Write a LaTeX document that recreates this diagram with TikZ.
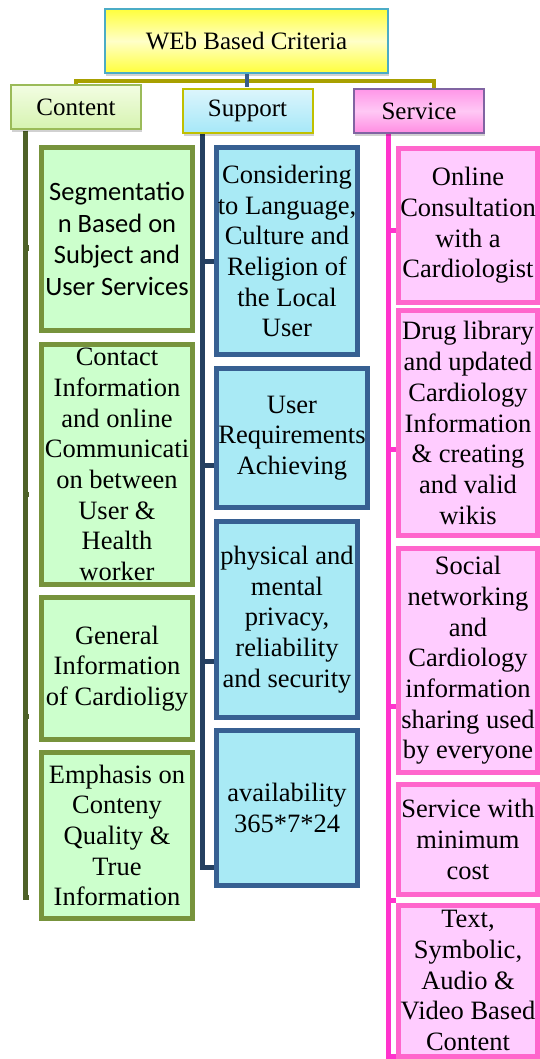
\documentclass[tikz,border=0pt]{standalone}
\usepackage{fontspec}
\setmainfont{Liberation Serif}
\newfontfamily\calibrifont{Carlito}
\usetikzlibrary{shadows}
\definecolor{rootborder}{RGB}{75,172,198}
\definecolor{rootyel}{RGB}{255,255,60}
\definecolor{rootlight}{RGB}{255,255,200}
\definecolor{olivebar}{RGB}{168,160,0}
\definecolor{rootstub}{RGB}{56,93,138}
\definecolor{conborder}{RGB}{155,187,89}
\definecolor{contop}{RGB}{242,253,226}
\definecolor{conbot}{RGB}{214,243,176}
\definecolor{supborder}{RGB}{192,192,0}
\definecolor{suptop}{RGB}{220,245,252}
\definecolor{supbot}{RGB}{166,232,248}
\definecolor{svcborder}{RGB}{128,100,162}
\definecolor{svctop}{RGB}{255,150,232}
\definecolor{svcmid}{RGB}{255,200,245}
\definecolor{svcbot}{RGB}{255,140,226}
\definecolor{cfill}{RGB}{204,255,204}
\definecolor{cedge}{RGB}{119,147,60}
\definecolor{sfill}{RGB}{169,234,245}
\definecolor{sedge}{RGB}{55,96,146}
\definecolor{vfill}{RGB}{255,204,255}
\definecolor{vedge}{RGB}{255,102,204}
\definecolor{cbarcol}{RGB}{79,98,40}
\definecolor{sbarcol}{RGB}{37,64,97}
\definecolor{vbarcol}{RGB}{255,51,204}
\begin{document}
\begin{tikzpicture}[x=1pt,y=-1pt,
  hshadow/.style={drop shadow={shadow xshift=1pt,shadow yshift=-3pt,fill=black,opacity=0.18}},
  rootbox/.style={draw=rootborder,line width=2pt,top color=rootyel,bottom color=rootyel,middle color=rootlight,hshadow,inner sep=0,minimum width=283,minimum height=64,font=\fontsize{25}{30}\selectfont},
  hdr/.style={line width=2pt,inner sep=0,minimum width=130,minimum height=44,hshadow,font=\fontsize{25}{30}\selectfont},
  conhdr/.style={hdr,draw=conborder,top color=contop,bottom color=conbot},
  suphdr/.style={hdr,draw=supborder,top color=suptop,bottom color=supbot},
  svchdr/.style={hdr,draw=svcborder,top color=svctop,bottom color=svcbot,middle color=svcmid},
  child/.style={line width=5pt,inner sep=0},
  cbox/.style={child,draw=cedge,fill=cfill,minimum width=151},
  sbox/.style={child,draw=sedge,fill=sfill,minimum width=141},
  vbox/.style={child,draw=vedge,fill=vfill,minimum width=139},
  txt/.style={align=center,inner sep=0,font=\fontsize{26.5}{30.7}\selectfont},
  stxt/.style={align=center,inner sep=0,font=\calibrifont\fontsize{26.5}{31.5}\selectfont},
  cbar/.style={draw=cbarcol,line width=5pt},
  sbar/.style={draw=sbarcol,line width=5pt},
  vbar/.style={draw=vbarcol,line width=5pt},
  obar/.style={draw=olivebar,line width=4pt},
  rst/.style={draw=rootstub,line width=4pt}]
\useasboundingbox (0,0) rectangle (540,1059);

% connectors from root
\coordinate (jr) at (434,81);
\coordinate (jc) at (76,81);
\draw[obar] (jc |- 0,86) -- (jc) -- (jr) -- (434,90);
\node[rootbox] (root) at (246.5,41) {WEb Based Criteria};
\draw[rst] (root.south) -- (246.5,87);

% bars of the three branches
\coordinate (cb) at (25,131);
\coordinate (sb) at (202,134);
\coordinate (vb) at (388,134);
\coordinate (c1s) at (29,248);
\coordinate (c2s) at (29,494);
\coordinate (c3s) at (29,716);
\coordinate (c4s) at (29,897);
\coordinate (s1s) at (214,261);
\coordinate (s2s) at (214,465);
\coordinate (s3s) at (214,661);
\coordinate (s4s) at (214,867);
\coordinate (v1s) at (396,231);
\coordinate (v2s) at (396,449);
\coordinate (v3s) at (396,706);
\coordinate (v4s) at (396,900);
\coordinate (v5s) at (396,1056);
\foreach \s in {c1s,c2s,c3s,c4s} \draw[cbar] (cb) |- (\s);
\foreach \s in {s1s,s2s,s3s,s4s} \draw[sbar] (sb) |- (\s);
\foreach \s in {v1s,v2s,v3s,v4s,v5s} \draw[vbar] (vb) |- (\s);

% headers
\node[conhdr] (content) at (76,107.5) {Content};
\node[suphdr] (support) at (247.5,111) {Support};
\node[svchdr] (service) at (419,111) {Service};

% content children
\node[cbox,minimum height=183] (c1) at (117,239) {};
\node[stxt] at (c1) {Segmentatio\\n Based on\\Subject and\\User Services};
\node[cbox,minimum height=240] (c2) at (117,464.5) {};
\node[txt] at (c2) {Contact\\Information\\and online\\Communicati\\on between\\User \&\\Health\\worker};
\node[cbox,minimum height=142] (c3) at (117,668.5) {};
\node[txt] at (c3) {General\\Information\\of Cardioligy};
\node[cbox,minimum height=166] (c4) at (117,835.5) {};
\node[txt] at (c4) {Emphasis on\\Conteny\\Quality \&\\True\\Information};

% support children
\node[sbox,minimum height=207] (s1) at (287,251) {};
\node[txt] at (s1) {Considering\\to Language,\\Culture and\\Religion of\\the Local\\User};
\node[sbox,minimum width=151,minimum height=139] (s2) at (292,438) {};
\node[txt] at (s2) {User\\Requirements\\Achieving};
\node[sbox,minimum height=196] (s3) at (287,619.5) {};
\node[txt] at (s3) {physical and\\mental\\privacy,\\reliability\\and security};
\node[sbox,minimum height=155] (s4) at (287,808) {};
\node[txt] at (s4) {availability\\365*7*24};

% service children
\node[vbox,minimum height=154] (v1) at (468,225.5) {};
\node[txt] at (v1) {Online\\Consultation\\with a\\Cardiologist};
\node[vbox,minimum height=225] (v2) at (468,423) {};
\node[txt] at (v2) {Drug library\\and updated\\Cardiology\\Information\\\& creating\\and valid\\wikis};
\node[vbox,minimum height=224] (v3) at (468,660.5) {};
\node[txt] at (v3) {Social\\networking\\and\\Cardiology\\information\\sharing used\\by everyone};
\node[vbox,minimum height=110] (v4) at (468,839.5) {};
\node[txt] at (v4) {Service with\\minimum\\cost};
\node[vbox,minimum height=151] (v5) at (468,980.5) {};
\node[txt] at (v5) {Text,\\Symbolic,\\Audio \&\\Video Based\\Content};
\end{tikzpicture}
\end{document}
